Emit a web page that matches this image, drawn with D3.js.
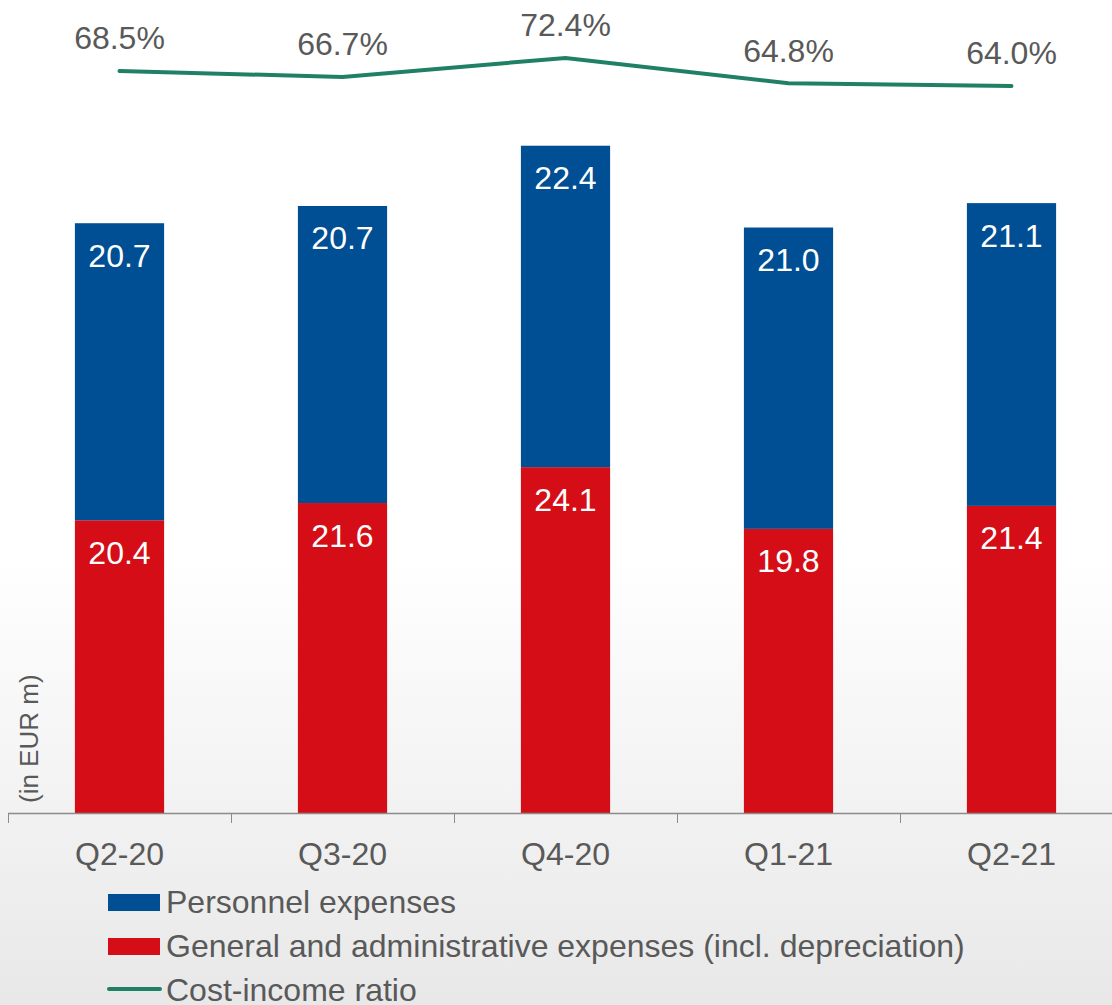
<!DOCTYPE html>
<html>
<head>
<meta charset="utf-8">
<script src="https://cdn.jsdelivr.net/npm/d3@7"></script>
<style>
  body { margin: 0; padding: 0; background: #fff; }
  svg { display: block; }
</style>
</head>
<body>
<script>
/* Data
***********************************************************************/
var quarters = ["Q2-20", "Q3-20", "Q4-20", "Q1-21", "Q2-21"];
var adminExp = [20.4, 21.6, 24.1, 19.8, 21.4];     // General and administrative
var personnelExp = [20.7, 20.7, 22.4, 21.0, 21.1]; // Personnel
var costIncome = [68.5, 66.7, 72.4, 64.8, 64.0];   // in %
var legendLabels = ["Personnel expenses", "General and administrative expenses (incl. depreciation)", "Cost-income ratio"];

/* Setup
***********************************************************************/
var svgW = 1112;
var svgH = 1005;
var blue = "#004f94";
var red = "#d50d16";
var green = "#1f8066";
var grey = "#595959";
var fontfam = "Liberation Sans, Arial, sans-serif";
var fsize = "32px";

var svg = d3.select("body").append("svg")
	.attr("width", svgW)
	.attr("height", svgH);

// background gradient
var grad = svg.append("defs").append("linearGradient")
	.attr("id", "bg")
	.attr("x1", 0).attr("y1", 0).attr("x2", 0).attr("y2", 1);
grad.append("stop").attr("offset", "0.55").attr("stop-color", "#ffffff");
grad.append("stop").attr("offset", "1").attr("stop-color", "#e8e8e8");
svg.append("rect")
	.attr("width", svgW).attr("height", svgH)
	.attr("fill", "url(#bg)");

/* Scales
***********************************************************************/
var xScale = d3.scaleBand()
	.domain(quarters)
	.range([8, 1123])
	.paddingInner(0.6)
	.paddingOuter(0.3);

var yScale = d3.scaleLinear()
	.domain([0, 50])
	.range([813, 95.5]);

var yLine = d3.scaleLinear()
	.domain([60, 75])
	.range([99.3, 49.3]);

/* Bars
***********************************************************************/
var rows = quarters.map(function(q, i) {
	return {q: q, admin: adminExp[i], pers: personnelExp[i], ratio: costIncome[i]};
});

var barG = svg.append("g");
rows.forEach(function(d) {
	// red bottom segment
	barG.append("rect")
		.attr("x", xScale(d.q))
		.attr("y", yScale(d.admin))
		.attr("width", xScale.bandwidth())
		.attr("height", yScale(0) - yScale(d.admin))
		.attr("fill", red);
	// blue top segment
	barG.append("rect")
		.attr("x", xScale(d.q))
		.attr("y", yScale(d.admin + d.pers))
		.attr("width", xScale.bandwidth())
		.attr("height", yScale(d.admin) - yScale(d.admin + d.pers))
		.attr("fill", blue);
	// value labels
	barG.append("text")
		.attr("x", xScale(d.q) + xScale.bandwidth() / 2)
		.attr("y", yScale(d.admin) + 43.5)
		.attr("text-anchor", "middle")
		.attr("font-family", fontfam)
		.attr("font-size", fsize)
		.attr("fill", "#fff")
		.text(d.admin.toFixed(1));
	barG.append("text")
		.attr("x", xScale(d.q) + xScale.bandwidth() / 2)
		.attr("y", yScale(d.admin + d.pers) + 43.5)
		.attr("text-anchor", "middle")
		.attr("font-family", fontfam)
		.attr("font-size", fsize)
		.attr("fill", "#fff")
		.text(d.pers.toFixed(1));
});

/* Axis
***********************************************************************/
var axisG = svg.append("g")
	.attr("transform", "translate(0,813)");
axisG.append("line")
	.attr("x1", 8).attr("x2", svgW)
	.attr("y1", 0.5).attr("y2", 0.5)
	.attr("stroke", "#8c8c8c")
	.attr("stroke-width", 1.5);
var step = xScale.step();
d3.range(quarters.length + 1).forEach(function(i) {
	var tx = Math.round(8 + i * step) + 0.5;
	axisG.append("line")
		.attr("x1", tx).attr("x2", tx)
		.attr("y1", 0).attr("y2", 10)
		.attr("stroke", "#8c8c8c")
		.attr("stroke-width", 1);
});
quarters.forEach(function(q) {
	axisG.append("text")
		.attr("x", xScale(q) + xScale.bandwidth() / 2)
		.attr("y", 52)
		.attr("text-anchor", "middle")
		.attr("font-family", fontfam)
		.attr("font-size", fsize)
		.attr("fill", grey)
		.text(q);
});

// y axis title
svg.append("text")
	.attr("transform", "translate(38,803) rotate(-90)")
	.attr("text-anchor", "start")
	.attr("font-family", fontfam)
	.attr("font-size", "26px")
	.attr("fill", grey)
	.text("(in EUR m)");

/* Cost-income line
***********************************************************************/
var line = d3.line()
	.x(function(d) { return xScale(d.q) + xScale.bandwidth() / 2; })
	.y(function(d) { return yLine(d.ratio); });

svg.append("path")
	.attr("d", line(rows))
	.attr("fill", "none")
	.attr("stroke", green)
	.attr("stroke-width", 4)
	.attr("stroke-linecap", "round");

svg.append("g").selectAll("text")
	.data(rows)
	.enter().append("text")
	.attr("x", function(d) { return xScale(d.q) + xScale.bandwidth() / 2; })
	.attr("y", function(d) { return yLine(d.ratio) - 21.5; })
	.attr("text-anchor", "middle")
	.attr("font-family", fontfam)
	.attr("font-size", fsize)
	.attr("fill", grey)
	.text(function(d) { return d.ratio.toFixed(1) + "%"; });

/* Legend
***********************************************************************/
var legG = svg.append("g");
legendLabels.forEach(function(lab, i) {
	var cy = 902 + i * 44;
	if (i < 2) {
		legG.append("rect")
			.attr("x", 108).attr("y", cy - 8)
			.attr("width", 52).attr("height", 17)
			.attr("fill", i == 0 ? blue : red);
	} else {
		legG.append("line")
			.attr("x1", 109).attr("x2", 160)
			.attr("y1", cy - 1).attr("y2", cy - 1)
			.attr("stroke", green)
			.attr("stroke-width", 4)
			.attr("stroke-linecap", "round");
	}
	legG.append("text")
		.attr("x", 166)
		.attr("y", cy + 11)
		.attr("font-family", fontfam)
		.attr("font-size", fsize)
		.attr("fill", grey)
		.text(lab);
});
</script>
</body>
</html>
